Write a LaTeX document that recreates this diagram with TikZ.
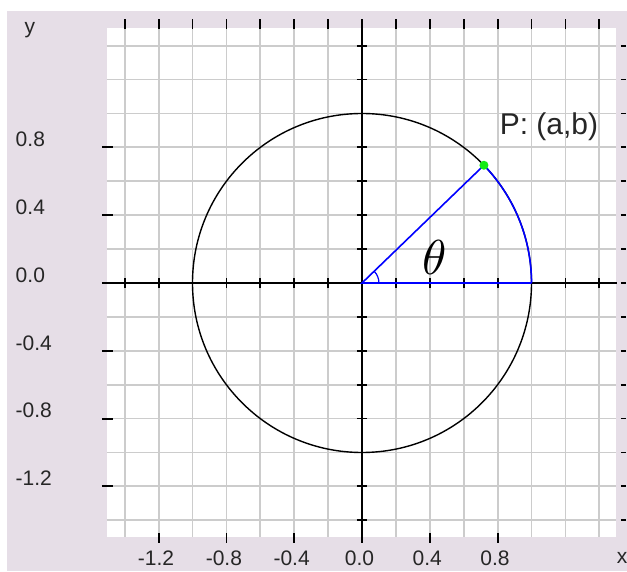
\documentclass[tikz,border=0pt]{standalone}
\usepackage{fontspec}
\setmainfont{Liberation Sans}
\begin{document}
\begin{tikzpicture}[x=1pt,y=1pt,
  gridline/.style={draw=gridc,line width=1.8pt},
  axisline/.style={draw=black,line width=2pt},
  tickmark/.style={draw=black,line width=1.8pt},
  circline/.style={draw=black,line width=1.4pt},
  blueline/.style={draw=blue,line width=1.6pt},
  ticklabel/.style={font=\fontsize{21}{21}\selectfont,text=black!85,inner sep=0pt},
  plabel/.style={font=\fontsize{30}{30}\selectfont,text=black!85,inner sep=0pt},
  thetalabel/.style={scale=4.9,inner sep=0pt}]
\definecolor{bgl}{RGB}{230,222,231}
\definecolor{gridc}{RGB}{204,204,204}
\definecolor{ptgreen}{RGB}{20,235,20}
\useasboundingbox (0,0) rectangle (627,571);
\fill[white] (0,0) rectangle (627,571);
\fill[bgl] (7,0) rectangle (627,560);
\begin{scope}[shift={(362pt,288pt)},x=169.5pt,y=169.5pt]
  % plot area
  \fill[white] (-1.507,-1.498) rectangle (1.498,1.504);
  \foreach \k in {-7,...,7} {
    \draw[gridline] (\k*0.2,-1.498) -- (\k*0.2,1.504);
    \draw[gridline] (-1.507,\k*0.2) -- (1.498,\k*0.2);
  }
  % axes
  \draw[axisline] (-1.534,0) -- (1.504,0);
  \draw[axisline] (0,1.557) -- (0,-1.534);
  \foreach \k in {-7,...,7} {
    \draw[tickmark] (\k*0.2,-0.03) -- (\k*0.2,0.03);
    \draw[tickmark] (-0.03,\k*0.2) -- (0.03,\k*0.2);
    % top ticks
    \draw[tickmark] (\k*0.2,1.498) -- (\k*0.2,1.557);
    % right ticks
    \draw[tickmark] (1.527,\k*0.2) -- (1.557,\k*0.2);
  }
  % left ticks and labels
  \foreach \v in {0.8,0.4,-0.4,-0.8,-1.2} {
    \draw[tickmark] (-1.534,\v) -- (-1.47,\v);
  }
  \foreach \v/\t in {0.8/0.8,0.4/0.4,0.0/0.0,-0.4/-0.4,-0.8/-0.8,-1.2/-1.2} {
    \node[ticklabel,anchor=west] (ly\t) at (-2.044,\v+0.047) {\t};
  }
  % bottom ticks and labels
  \foreach \v in {-1.2,-0.8,-0.4,0.4,0.8} {
    \draw[tickmark] (\v,-1.475) -- (\v,-1.534);
  }
  \foreach \v/\t in {-1.2/-1.2,-0.8/-0.8,-0.4/-0.4,0.0/0.0,0.4/0.4,0.8/0.8} {
    \node[ticklabel] (lx\t) at (\v-0.015,-1.622) {\t};
  }
  \node[ticklabel] (ylab) at (-1.959,1.49) {y};
  \node[ticklabel] (xlab) at (1.534,-1.622) {x};
  % circle
  \coordinate (O) at (0,0);
  \coordinate (A) at (1,0);
  \coordinate (P) at (44:1);
  \draw[circline] (O) circle[radius=1];
  % blue sector
  \draw[blueline] (A) -- (O) -- (P) arc[start angle=44,end angle=0,radius=1];
  \draw[blueline,line width=1.2pt] (0.1,0) arc[start angle=0,end angle=44,radius=0.1];
  \fill[ptgreen] (P) circle[radius=4.5pt];
  \node[thetalabel] (th) at (0.43,0.15) {$\theta$};
  \node[plabel] (pl) at (1.103,0.92) {P: (a,b)};
\end{scope}
\end{tikzpicture}
\end{document}
